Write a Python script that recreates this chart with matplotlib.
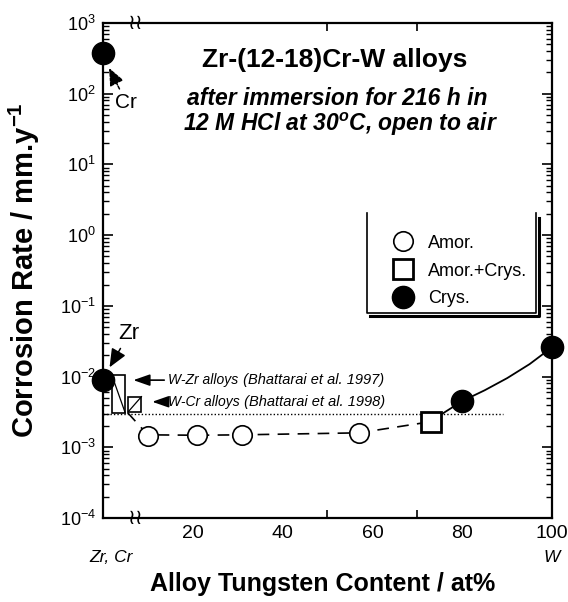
import matplotlib
matplotlib.use('Agg')
import matplotlib.pyplot as plt
from matplotlib.lines import Line2D
from matplotlib.patches import Rectangle
from matplotlib.transforms import blended_transform_factory

plt.rcParams['font.family'] = ['Liberation Sans', 'DejaVu Sans']
plt.rcParams['mathtext.fontset'] = 'custom'
plt.rcParams['mathtext.rm'] = 'Liberation Sans'
plt.rcParams['mathtext.it'] = 'Liberation Sans:italic:bold'
plt.rcParams['mathtext.bf'] = 'Liberation Sans:bold'
plt.rcParams['axes.unicode_minus'] = False

# values (x = at% W, y = corrosion rate in mm/y)
amor_x = [10, 21, 31, 57]
amor_y = [0.00144, 0.00148, 0.00150, 0.00158]
amcr_x = [73]
amcr_y = [0.0023]
crys_x = [0, 0, 80, 100]
crys_y = [370, 0.0089, 0.0045, 0.026]

# literature ranges (Bhattarai et al.)
wzr_x = [2.0, 5.0]
wzr_y = [0.00305, 0.0105]
wcr_x = [5.7, 8.6]
wcr_y = [0.0032, 0.0052]
lit_level = 0.00295
lit_end = 89

# hand drawn guide curves
guide_dash_x = [5.5, 10, 21, 31, 57, 73]
guide_dash_y = [0.0031, 0.00150, 0.00148, 0.00150, 0.00160, 0.0023]
guide_solid_x = [73, 80, 85, 90, 95, 100]
guide_solid_y = [0.00235, 0.0045, 0.0064, 0.0095, 0.0150, 0.026]

xtick_vals = [20, 40, 60, 80, 100]
xtick_marks = [20, 50, 70, 80]

fig = plt.figure(figsize=(5.68, 6.02), dpi=100)
ax = fig.add_axes([0.181, 0.1395, 0.791, 0.8225])
ax.set_yscale('log')
ax.set_xlim(0, 100)
ax.set_ylim(1e-4, 1e3)

# guide lines
ax.plot(guide_dash_x, guide_dash_y, color='k', lw=1.2, dashes=(7, 5), zorder=1)
ax.plot(guide_solid_x, guide_solid_y, color='k', lw=1.3, zorder=1)
ax.plot([0, lit_end], [lit_level, lit_level], color='k', lw=1, ls=(0, (1, 1.5)), zorder=1)

# literature boxes
for bx, by, diag in [(wzr_x, wzr_y, 'down'), (wcr_x, wcr_y, 'up')]:
    ax.add_patch(Rectangle((bx[0], by[0]), bx[1] - bx[0], by[1] - by[0],
                           fill=False, ec='k', lw=1.2, zorder=2))
    if diag == 'down':
        ax.plot(bx, [by[1], by[0]], color='k', lw=0.9, zorder=2)
    else:
        ax.plot(bx, by, color='k', lw=0.9, zorder=2)

h_amor, = ax.plot(amor_x, amor_y, 'o', ms=14, mfc='white', mec='k', mew=1.2, zorder=3)
h_amcr, = ax.plot(amcr_x, amcr_y, 's', ms=15, mfc='white', mec='k', mew=2, zorder=3)
h_crys, = ax.plot(crys_x, crys_y, 'o', ms=16, mfc='k', mec='k', zorder=4, clip_on=False)

# ticks
ax.tick_params(axis='y', which='major', direction='in', length=7, width=1.2,
               right=True, labelsize=13, pad=5)
ax.tick_params(axis='y', which='minor', direction='in', length=4, width=1, right=True)
ax.set_xticks(xtick_vals)
ax.set_xticklabels([str(v) for v in xtick_vals])
ax.set_xticks(xtick_marks, minor=True)
ax.tick_params(axis='x', which='major', length=0, labelsize=14, pad=5)
ax.tick_params(axis='x', which='minor', direction='in', length=6, width=1.2, top=True)
for s in ax.spines.values():
    s.set_linewidth(1.6)

# axis break marks
trans_xa = blended_transform_factory(ax.transData, ax.transAxes)
for yy in [0, 1]:
    ax.text(7.3, yy, '\u2240\u2240', transform=trans_xa, ha='center', va='center',
            fontsize=15, family='DejaVu Sans', clip_on=False)

# end member labels under the axis
ax.text(1.8, -0.079, 'Zr, Cr', transform=trans_xa, ha='center', va='center',
        fontsize=12.5, style='italic')
ax.text(100, -0.079, 'W', transform=trans_xa, ha='center', va='center',
        fontsize=12.5, style='italic')

ax.set_xlabel('Alloy Tungsten Content / at%', fontsize=18, fontweight='bold')
ax.xaxis.set_label_coords(0.49, -0.109)
ax.set_ylabel(r'Corrosion Rate / mm.y$^{\mathbf{-1}}$', fontsize=21, fontweight='bold')
ax.yaxis.set_label_coords(-0.135, 0.5)

# titles
ax.text(0.515, 0.925, 'Zr-(12-18)Cr-W alloys', transform=ax.transAxes, ha='center',
        va='center', fontsize=19, fontweight='bold')
ax.text(0.522, 0.848, 'after immersion for 216 h in', transform=ax.transAxes,
        ha='center', va='center', fontsize=16.5, fontweight='bold', style='italic')
ax.text(0.528, 0.794, r'12 M HCl at 30$^{o}$C, open to air', transform=ax.transAxes,
        ha='center', va='center', fontsize=16.5, fontweight='bold', style='italic')

# element labels
arr = dict(arrowstyle='-|>,head_length=0.7,head_width=0.3', color='k', lw=1.1,
           shrinkA=1, shrinkB=0)
ax.annotate('Cr', xy=(1.4, 230), xytext=(5.2, 75), ha='center', va='center',
            fontsize=15, arrowprops=dict(arr, linestyle=(0, (2, 1))))
ax.annotate('Zr', xy=(1.5, 0.0135), xytext=(5.8, 0.040), ha='center', va='center',
            fontsize=16, arrowprops=arr)

# literature annotations
for tip_x, yv, name, ref in [(6.8, 0.0089, 'W-Zr alloys', '(Bhattarai et al. 1997)'),
                             (11.0, 0.0044, 'W-Cr alloys', '(Bhattarai et al. 1998)')]:
    t = ax.annotate(name, xy=(tip_x, yv), xytext=(14.6, yv), ha='left', va='center',
                    fontsize=10, style='italic',
                    arrowprops=dict(arrowstyle='-|>,head_length=1.0,head_width=0.35',
                                    color='k', lw=1.2, shrinkA=1, shrinkB=0))
    ax.annotate(' ' + ref, xy=(1, 0.5), xycoords=t, ha='left', va='center',
                fontsize=10.5, style='italic')

# legend with an open topped shadow box
ax.legend([h_amor, h_amcr, h_crys], ['Amor.', 'Amor.+Crys.', 'Crys.'],
          loc='upper left', bbox_to_anchor=(0.60, 0.605), frameon=False,
          fontsize=13, labelspacing=0.6, handletextpad=0.6, handlelength=1.6,
          markerscale=1.0)
bl, br, bt, bb = 0.589, 0.965, 0.616, 0.414
ax.add_line(Line2D([bl, bl, br, br], [bt, bb, bb, bt], transform=ax.transAxes,
                   color='k', lw=1.2, zorder=5))
ax.add_line(Line2D([bl + 0.006, br + 0.006, br + 0.006], [bb - 0.005, bb - 0.005, bt - 0.01],
                   transform=ax.transAxes, color='k', lw=2.2, zorder=5))

fig.savefig('out.png', dpi=100)
